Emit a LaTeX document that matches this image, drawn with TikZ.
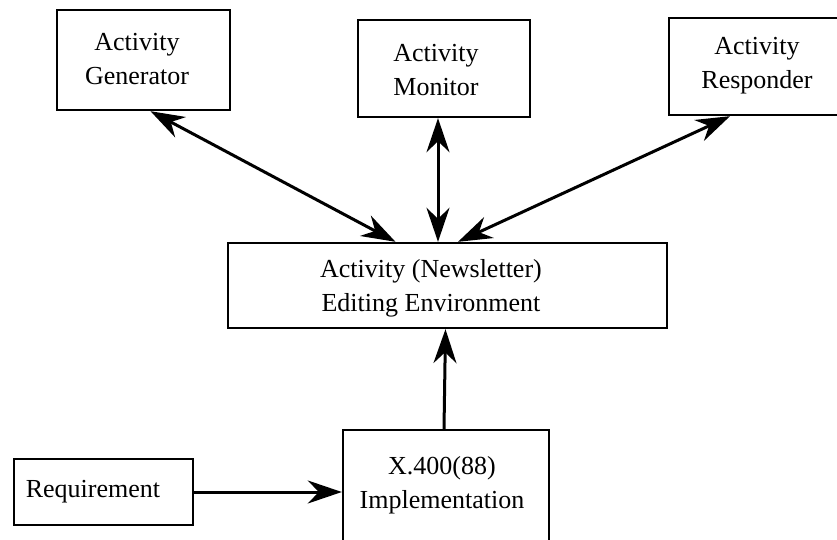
\documentclass[tikz,border=0pt]{standalone}
\usepackage{fontspec}
\setmainfont{Liberation Serif}
\usetikzlibrary{arrows.meta}
\begin{document}
\begin{tikzpicture}[x=1pt,y=-1pt,
  box/.style={draw, line width=2.4pt, rectangle, inner sep=0pt},
  txt/.style={align=center, inner sep=0pt, font=\fontsize{26}{34}\selectfont},
  tip/.style={Stealth[length=34pt,width=23pt,inset=11pt]},
  link/.style={line width=3pt, {Stealth[length=34pt,width=23pt,inset=11pt]}-{Stealth[length=34pt,width=23pt,inset=11pt]}},
  onelink/.style={line width=3pt, -{Stealth[length=34pt,width=23pt,inset=11pt]}}]
\useasboundingbox (0,0) rectangle (837,540);
\clip (0,0) rectangle (837,540);
% top row of activity components
\node[box, minimum width=173pt, minimum height=100pt] (gen) at (143.5,60) {};
\node[txt] (gentext) at (137,59) {Activity\\Generator};
\node[box, minimum width=172pt, minimum height=97pt] (mon) at (444,68.5) {};
\node[txt] (montext) at (436,70) {Activity\\Monitor};
\node[box, minimum width=176pt, minimum height=97pt] (resp) at (757,66.5) {};
\node[txt] (resptext) at (757,66) {Activity\\Responder};
% editing environment
\node[box, minimum width=439pt, minimum height=85pt] (env) at (447.5,285.5) {};
\node[txt] (envtext) at (431,288) {Activity (Newsletter)\\Editing Environment};
% lower row
\node[box, minimum width=206pt, minimum height=124pt] (x400) at (446,492) {};
\node[txt] (x400text) at (442,485) {X.400(88)\\Implementation};
\node[box, minimum width=179pt, minimum height=66pt] (req) at (103.5,492) {};
\node[txt] (reqtext) at (93,492) {Requirement};
% connectors
\draw[link] ([xshift=7pt]gen.south) -- ([xshift=-52pt]env.north);
\draw[link] ([xshift=-6pt]mon.south) -- ([xshift=-9.5pt]env.north);
\draw[link] ([xshift=-27pt]resp.south) -- ([xshift=10.5pt]env.north);
\draw[onelink] ([xshift=-2pt]x400.north) -- ([xshift=-2pt]env.south);
\draw[onelink] (req.east) -- (req.east -| x400.west);
\end{tikzpicture}
\end{document}
